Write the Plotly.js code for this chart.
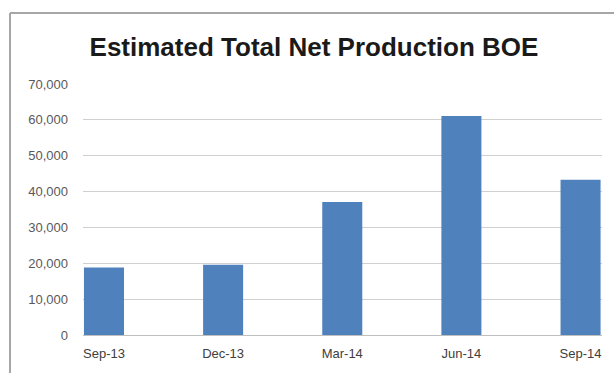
<!DOCTYPE html>
<html>
<head>
<meta charset="utf-8">
<script src="https://cdn.plot.ly/plotly-3.0.1.min.js"></script>
<style>html,body{margin:0;padding:0;background:#fff;}#chart{width:614px;height:373px;}</style>
</head>
<body>
<div id="chart"></div>
<script>
const categories = ["Sep-13", "Dec-13", "Mar-14", "Jun-14", "Sep-14"];
const production = [18800, 19600, 37100, 61100, 43300];
const yTicks = [0, 10000, 20000, 30000, 40000, 50000, 60000, 70000];

const W = 614, H = 373;
const m = {l: 83, r: 12, t: 84, b: 38};
const pw = W - m.l - m.r, ph = H - m.t - m.b;
const px = x => (x - m.l) / pw;
const py = y => (H - m.b - y) / ph;

const data = [{
  type: 'bar',
  x: categories,
  y: production,
  marker: {color: '#4f81bd', line: {width: 0}},
  width: 0.336,
  hoverinfo: 'x+y'
}];

const layout = {
  width: W, height: H,
  margin: m,
  paper_bgcolor: '#ffffff',
  plot_bgcolor: '#ffffff',
  showlegend: false,
  title: {
    text: 'Estimated Total Net Production BOE',
    font: {family: 'Liberation Sans, Arial, sans-serif', size: 26, color: '#1a1a1a', weight: 'bold'},
    x: 0.445, xanchor: 'center', xref: 'paper',
    y: 1 - 47 / H, yanchor: 'middle', yref: 'container'
  },
  xaxis: {
    type: 'category',
    range: [-0.176, 4.18],
    showgrid: false,
    zeroline: false,
    showline: false,
    ticks: '',
    ticklabelstandoff: 9,
    tickfont: {family: 'Liberation Sans, Arial, sans-serif', size: 13, color: '#404040'}
  },
  yaxis: {
    range: [0, 70000],
    tickvals: yTicks,
    tickformat: ',',
    showgrid: true,
    gridcolor: '#d0d0d0',
    gridwidth: 1,
    zeroline: true,
    zerolinecolor: '#bfbfbf',
    showline: false,
    ticks: '',
    ticklabelstandoff: 14,
    tickfont: {family: 'Liberation Sans, Arial, sans-serif', size: 13, color: '#595959'}
  },
  shapes: [
    {type: 'line', xref: 'paper', yref: 'paper', x0: px(10), x1: px(10), y0: py(H), y1: py(13), line: {color: '#a6a6a6', width: 2}},
    {type: 'line', xref: 'paper', yref: 'paper', x0: px(10), x1: px(W), y0: py(13), y1: py(13), line: {color: '#a6a6a6', width: 2}}
  ]
};

Plotly.newPlot('chart', data, layout, {displayModeBar: false, staticPlot: true});
</script>
</body>
</html>
